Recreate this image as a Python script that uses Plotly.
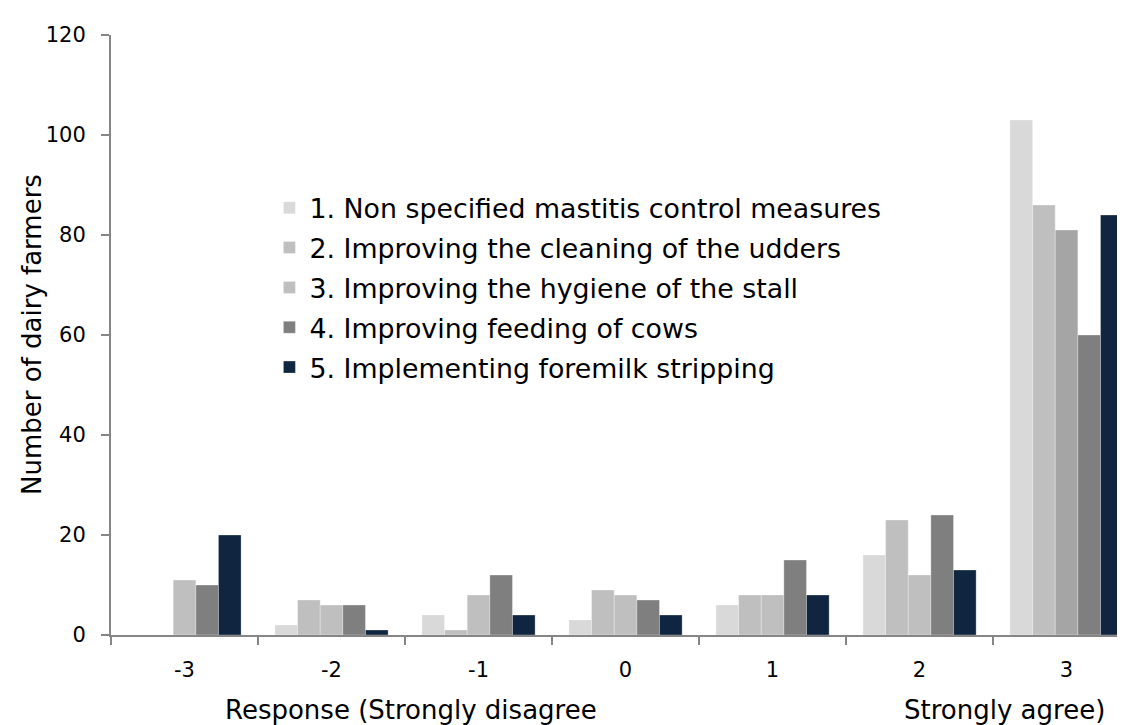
import plotly.graph_objects as go

categories = ["-3", "-2", "-1", "0", "1", "2", "3"]
series_names = [
    "1. Non specified mastitis control measures",
    "2. Improving the cleaning of the udders",
    "3. Improving the hygiene of the stall",
    "4. Improving feeding of cows",
    "5. Implementing foremilk stripping",
]
s1 = [0, 2, 4, 3, 6, 16, 103]
s2 = [0, 7, 1, 9, 8, 23, 86]
s3 = [11, 6, 8, 8, 8, 12, 81]
s4 = [10, 6, 12, 7, 15, 24, 60]
s5 = [20, 1, 4, 4, 8, 13, 84]
y_ticks = [0, 20, 40, 60, 80, 100, 120]

colors = [
    "#D9D9D9",
    "#BFBFBF",
    ["#BFBFBF"] * 6 + ["#A5A5A5"],
    "#7F7F7F",
    "#10253F",
]

FONT = "DejaVu Sans"
fig = go.Figure()
for i, (name, vals) in enumerate(zip(series_names, [s1, s2, s3, s4, s5])):
    fig.add_trace(go.Bar(
        x=categories, y=vals, name=name,
        marker=dict(color=colors[i], line=dict(color="rgba(255,255,255,0.6)", width=0.5)),
        legendgroup=f"g{i}",
    ))

fig.update_layout(
    width=1125, height=725,
    margin=dict(l=103, r=0, t=27, b=98),
    plot_bgcolor="white", paper_bgcolor="white",
    barmode="group", bargap=0.23, bargroupgap=0,
    font=dict(family=FONT, size=21, color="#000000"),
    showlegend=True,
    legend=dict(
        x=0.155, y=0.752, xanchor="left", yanchor="top",
        font=dict(family=FONT, size=26.8, color="#000000"),
        bgcolor="rgba(0,0,0,0)", tracegroupgap=2,
    ),
    xaxis=dict(
        type="category", categoryorder="array", categoryarray=categories,
        range=[-0.5, 6.452],
        tickson="boundaries", ticks="outside", ticklen=8, tickcolor="#868686", tickwidth=1.5,
        showline=True, linecolor="#868686", linewidth=2,
        showgrid=False, zeroline=False,
        tickfont=dict(family=FONT, size=21), ticklabelstandoff=15,
    ),
    yaxis=dict(
        range=[0, 120], tickvals=y_ticks,
        ticks="outside", ticklen=8, tickcolor="#868686", tickwidth=1.5,
        showline=True, linecolor="#868686", linewidth=2,
        showgrid=False, zeroline=False,
        tickfont=dict(family=FONT, size=21), ticklabelstandoff=11,
    ),
)

fig.add_annotation(
    text="Number of dairy farmers", textangle=-90,
    xref="paper", yref="paper", x=(24 - 103) / 1022, y=0.5,
    xanchor="center", yanchor="middle", showarrow=False,
    font=dict(family=FONT, size=26, color="#000000"),
)
fig.add_annotation(
    text="Response (Strongly disagree",
    xref="paper", yref="paper", x=(215 - 103) / 1022, y=(627 - 702) / 600,
    xanchor="left", yanchor="middle", showarrow=False,
    font=dict(family=FONT, size=26, color="#000000"),
)
fig.add_annotation(
    text="Strongly agree)",
    xref="paper", yref="paper", x=(1099 - 103) / 1022, y=(627 - 702) / 600,
    xanchor="right", yanchor="middle", showarrow=False,
    font=dict(family=FONT, size=26, color="#000000"),
)

fig.write_html("out.html")
